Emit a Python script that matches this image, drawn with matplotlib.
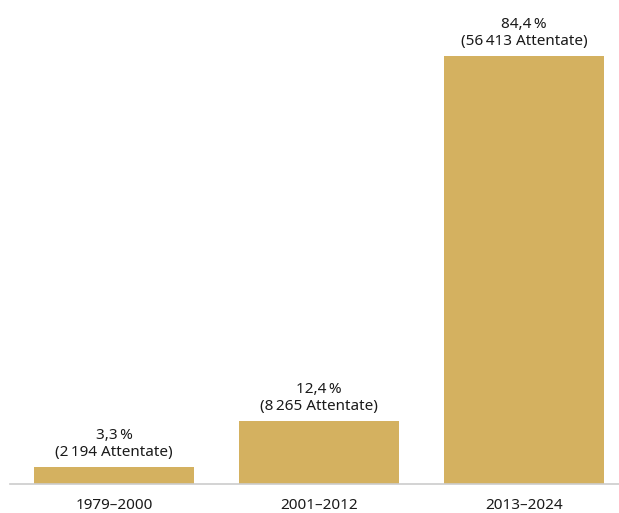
import matplotlib
matplotlib.use("Agg")
import matplotlib.pyplot as plt

categories = ["1979–2000", "2001–2012", "2013–2024"]
percent = [3.3, 12.4, 84.4]
attacks = ["2\u2009194", "8\u2009265", "56\u2009413"]
percent_labels = ["3,3\u2009%", "12,4\u2009%", "84,4\u2009%"]

plt.rcParams['font.family'] = ['Noto Sans', 'DejaVu Sans']
size = 11

fig = plt.figure(figsize=(6.19, 5.13), dpi=100)
ax = fig.add_axes([10/619, 1-484/513, 609/619, 484/513])
x = list(range(len(categories)))
ax.bar(x, percent, width=0.78, color="#D4B160")
ax.set_xlim(-0.507, 2.463)
ax.set_ylim(0, 84.4*484/428)
for i, (p, a, pl) in enumerate(zip(percent, attacks, percent_labels)):
    ax.annotate(f"{pl}\n({a} Attentate)", (i, p), xytext=(0, 5), textcoords="offset points",
                ha="center", va="bottom", fontsize=size, color="#1a1a1a", linespacing=1.2)
ax.set_xticks(x)
ax.set_xticklabels(categories, fontsize=size, color="#1a1a1a")
ax.tick_params(axis='x', length=0, pad=10)
ax.set_yticks([])
for s in ['top', 'right', 'left']:
    ax.spines[s].set_visible(False)
ax.spines['bottom'].set_color("#cccccc")
ax.spines['bottom'].set_linewidth(1.2)
fig.savefig("out.png", dpi=100)
